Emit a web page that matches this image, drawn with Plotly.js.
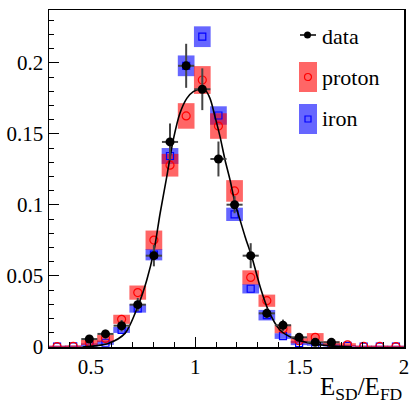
<!DOCTYPE html>
<html>
<head>
<meta charset="utf-8">
<script src="https://cdn.plot.ly/plotly-3.0.1.min.js"></script>
<style>html,body{margin:0;padding:0;background:#fff;}#chart{width:410px;height:405px;}</style>
</head>
<body>
<div id="chart"></div>
<script>
// Bin centres of E_SD/E_FD (22 bins from 0.3 to 2)
var binCenters = [0.3386, 0.4159, 0.4932, 0.5705, 0.6477, 0.7250, 0.8023, 0.8795, 0.9568, 1.0341, 1.1114,
                  1.1886, 1.2659, 1.3432, 1.4205, 1.4977, 1.5750, 1.6523, 1.7295, 1.8068, 1.8841, 1.9614];
var binHalfWidth = 0.0386;

// Proton simulation: value and systematic half-height of box
var protonValues = [0.0003, 0.0005, 0.0032, 0.0060, 0.0195, 0.0383, 0.0753, 0.1280, 0.1627, 0.1880, 0.1556,
                    0.1099, 0.0490, 0.0326, 0.0127, 0.0044, 0.0068, 0.0026, 0.0015, 0.0004, 0.0004, 0.0003];
var protonSys    = [0.0006, 0.0006, 0.0018, 0.0025, 0.0032, 0.0050, 0.0067, 0.0080, 0.0090, 0.0098, 0.0090,
                    0.0076, 0.0050, 0.0043, 0.0030, 0.0018, 0.0030, 0.0015, 0.0012, 0.0006, 0.0006, 0.0006];

// Iron simulation
var ironValues = [0.0003, 0.0004, 0.0014, 0.0030, 0.0120, 0.0272, 0.0650, 0.1345, 0.1980, 0.2185, 0.1630,
                  0.0934, 0.0410, 0.0224, 0.0077, 0.0028, 0.0019, 0.0012, 0.0008, 0.0003, 0.0003, 0.0003];
var ironSys    = [0.0006, 0.0006, 0.0012, 0.0015, 0.0021, 0.0030, 0.0040, 0.0056, 0.0073, 0.0073, 0.0065,
                  0.0047, 0.0033, 0.0037, 0.0020, 0.0015, 0.0010, 0.0008, 0.0006, 0.0006, 0.0006, 0.0006];

// Data
var dataX   = [0.4932, 0.5705, 0.6477, 0.7250, 0.8023, 0.8795, 0.9568, 1.0341, 1.1114, 1.1886, 1.2659,
               1.3432, 1.4205, 1.4977, 1.5750, 1.6523];
var dataY   = [0.0056, 0.0092, 0.0150, 0.0298, 0.0643, 0.1444, 0.1980, 0.1815, 0.1324, 0.1002, 0.0643,
               0.0237, 0.0153, 0.0068, 0.0033, 0.0033];
var dataErr = [0.0020, 0.0030, 0.0040, 0.0047, 0.0075, 0.0130, 0.0155, 0.0147, 0.0123, 0.0060, 0.0088,
               0.0035, 0.0040, 0.0020, 0.0015, 0.0015];

// Fit curve
var fitX = [0.46, 0.52, 0.584, 0.664, 0.728, 0.768, 0.803, 0.832, 0.864, 0.895, 0.927, 0.960, 0.991, 1.023,
            1.047, 1.071, 1.095, 1.119, 1.143, 1.167, 1.191, 1.215, 1.239, 1.271, 1.311, 1.350, 1.406,
            1.470, 1.550, 1.646, 1.750];
var fitY = [0.0000, 0.0008, 0.0025, 0.0096, 0.0296, 0.0470, 0.0680, 0.0940, 0.1200, 0.1458, 0.1646, 0.1751,
            0.1798, 0.1815, 0.1810, 0.1751, 0.1622, 0.1481, 0.1317, 0.1176, 0.1012, 0.0894, 0.0777, 0.0636,
            0.0425, 0.0260, 0.0120, 0.0061, 0.0026, 0.0008, 0.0002];

var xTickVals = [0.5, 1, 1.5, 2];
var xTickText = ['0.5', '1', '1.5', '2'];
var yTickVals = [0, 0.05, 0.1, 0.15, 0.2];
var yTickText = ['0', '0.05', '0.1', '0.15', '0.2'];

var RED = 'rgba(255,0,0,0.6)';
var BLUE = 'rgba(0,0,255,0.6)';
var SERIF = 'Liberation Serif';

function boxTrace(vals, sys, color) {
  return {
    type: 'bar', x: binCenters,
    y: sys.map(function (s) { return 2 * s; }),
    base: vals.map(function (v, i) { return v - sys[i]; }),
    width: 0.08, marker: {color: color, line: {width: 0}},
    hoverinfo: 'skip', showlegend: false
  };
}

var traces = [
  boxTrace(ironValues, ironSys, BLUE),
  boxTrace(protonValues, protonSys, RED),
  {type: 'scatter', mode: 'markers', x: binCenters, y: ironValues,
   marker: {symbol: 'square-open', size: 7, color: '#0000ff', line: {width: 1.2}}, showlegend: false},
  {type: 'scatter', mode: 'markers', x: binCenters, y: protonValues,
   marker: {symbol: 'circle-open', size: 8, color: '#ff0000', line: {width: 1.2}}, showlegend: false},
  {type: 'scatter', mode: 'lines', x: fitX, y: fitY, line: {color: '#000', width: 1.6, shape: 'spline', smoothing: 0.8},
   showlegend: false},
  {type: 'scatter', mode: 'markers', x: dataX, y: dataY,
   error_y: {type: 'data', array: dataErr, color: '#444', thickness: 2, width: 0},
   error_x: {type: 'constant', value: binHalfWidth, color: '#444', thickness: 2, width: 0},
   marker: {symbol: 'circle', size: 9, color: '#000'}, showlegend: false}
];

// legend geometry (paper coordinates)
function px2x(p) { return (p - 49) / 355; }
function px2y(p) { return (347 - p) / 337; }

var shapes = [
  {type: 'line', xref: 'paper', yref: 'paper', x0: px2x(300), x1: px2x(316), y0: px2y(35), y1: px2y(35), line: {color: '#000', width: 1.5}},
  {type: 'circle', xref: 'paper', yref: 'paper', x0: px2x(304), x1: px2x(311), y0: px2y(38.5), y1: px2y(31.5), fillcolor: '#000', line: {width: 0}},
  {type: 'rect', xref: 'paper', yref: 'paper', x0: px2x(299), x1: px2x(317), y0: px2y(92), y1: px2y(62), fillcolor: RED, line: {width: 0}},
  {type: 'circle', xref: 'paper', yref: 'paper', x0: px2x(304.5), x1: px2x(311.5), y0: px2y(80.5), y1: px2y(73.5), line: {color: '#ff0000', width: 1.2}},
  {type: 'rect', xref: 'paper', yref: 'paper', x0: px2x(299), x1: px2x(317), y0: px2y(134), y1: px2y(104), fillcolor: BLUE, line: {width: 0}},
  {type: 'rect', xref: 'paper', yref: 'paper', x0: px2x(305), x1: px2x(311), y0: px2y(122), y1: px2y(116), line: {color: '#0000ff', width: 1.2}}
];

var annotations = [
  {xref: 'paper', yref: 'paper', x: px2x(320), y: px2y(36.5), xanchor: 'left', yanchor: 'middle', showarrow: false,
   text: 'data', font: {family: SERIF, size: 22, color: '#000'}},
  {xref: 'paper', yref: 'paper', x: px2x(320), y: px2y(77), xanchor: 'left', yanchor: 'middle', showarrow: false,
   text: 'proton', font: {family: SERIF, size: 22, color: '#000'}},
  {xref: 'paper', yref: 'paper', x: px2x(320), y: px2y(119), xanchor: 'left', yanchor: 'middle', showarrow: false,
   text: 'iron', font: {family: SERIF, size: 22, color: '#000'}},
  {xref: 'paper', yref: 'paper', x: px2x(404), y: px2y(371), xanchor: 'right', yanchor: 'top', showarrow: false,
   text: 'E<sub>SD</sub>/E<sub>FD</sub>', font: {family: SERIF, size: 25, color: '#000'}}
];

var layout = {
  width: 410, height: 405,
  margin: {l: 49, r: 6, t: 10, b: 58},
  paper_bgcolor: '#fff', plot_bgcolor: '#fff',
  barmode: 'overlay', showlegend: false,
  xaxis: {range: [0.3, 2], showline: true, linecolor: '#000', linewidth: 1.5, mirror: true,
          ticks: 'inside', ticklen: 10, tickwidth: 1, tickcolor: '#000',
          tickvals: xTickVals, ticktext: xTickText,
          minor: {dtick: 0.1, tick0: 0, ticks: 'inside', ticklen: 5, tickwidth: 1, tickcolor: '#000'},
          showgrid: false, zeroline: false, fixedrange: true,
          tickfont: {family: SERIF, size: 21, color: '#000'}},
  yaxis: {range: [0, 0.2373], showline: true, linecolor: '#000', linewidth: 1.5, mirror: true,
          ticks: 'inside', ticklen: 10, tickwidth: 1, tickcolor: '#000',
          tickvals: yTickVals, ticktext: yTickText,
          minor: {dtick: 0.01, tick0: 0, ticks: 'inside', ticklen: 5, tickwidth: 1, tickcolor: '#000'},
          showgrid: false, zeroline: false, fixedrange: true,
          tickfont: {family: SERIF, size: 21, color: '#000'}},
  shapes: shapes,
  annotations: annotations
};

Plotly.newPlot('chart', traces, layout, {displayModeBar: false, staticPlot: true});
</script>
</body>
</html>
